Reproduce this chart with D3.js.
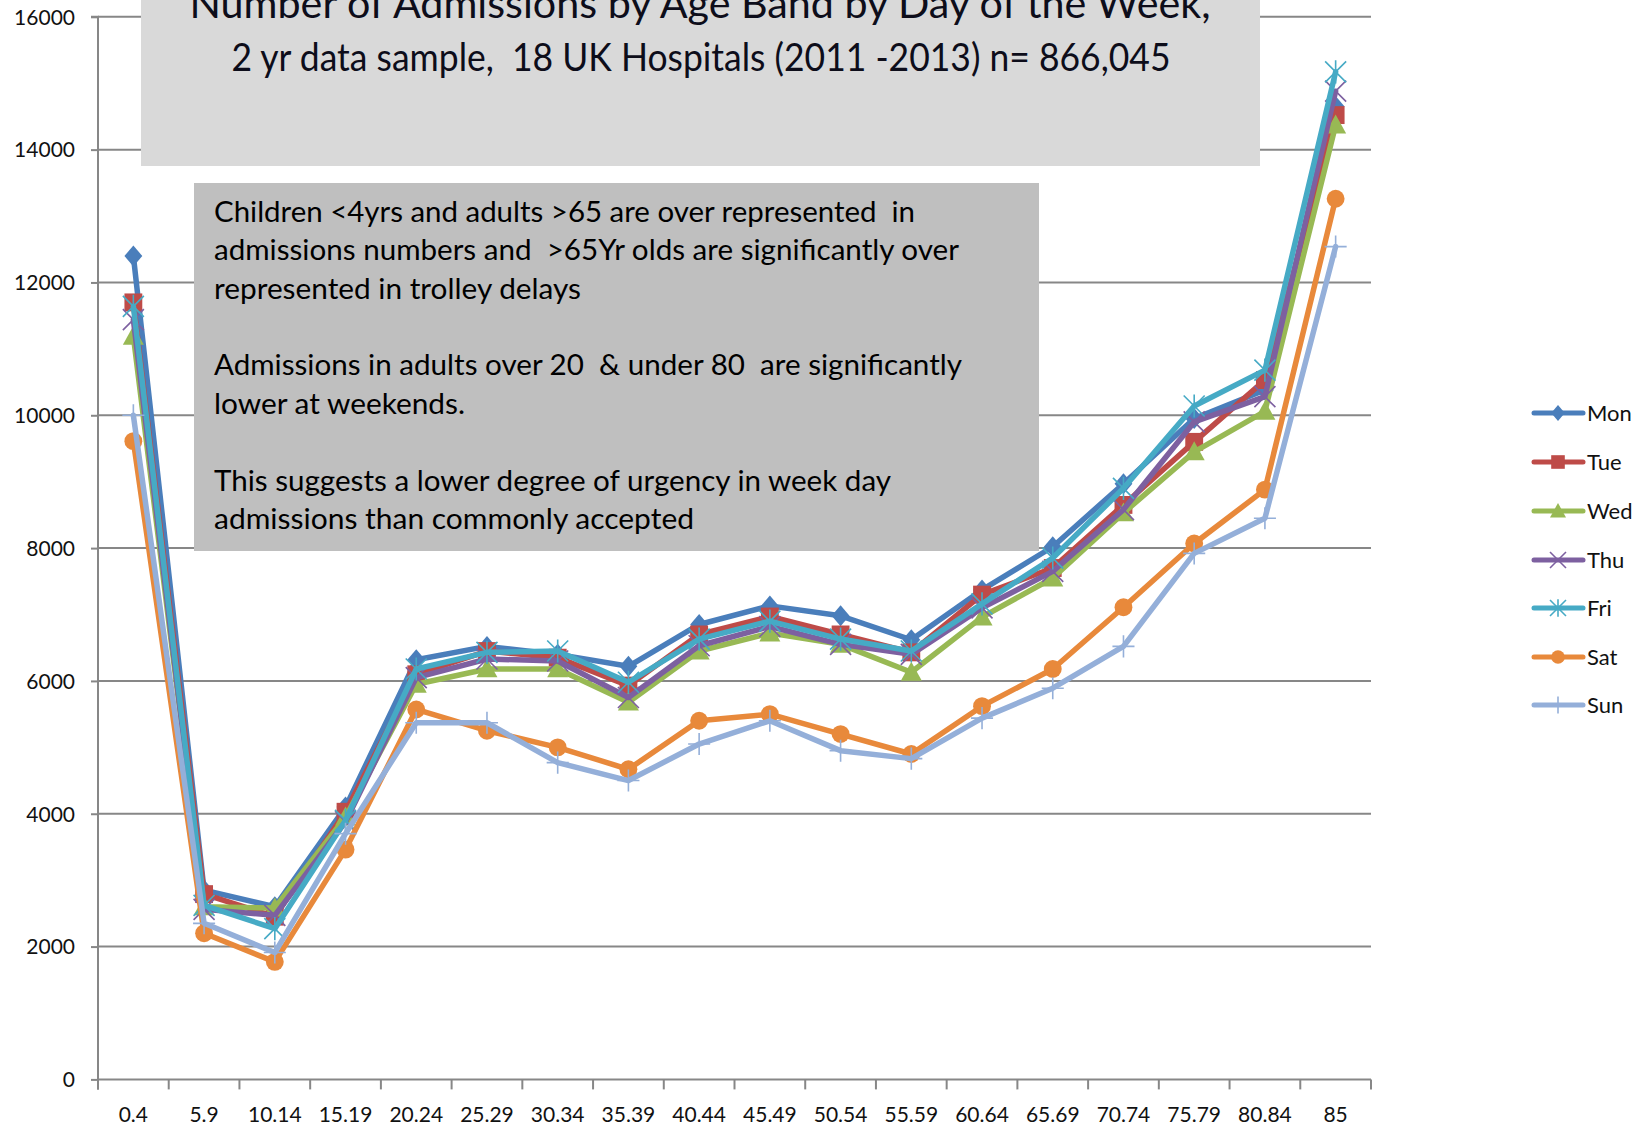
<!DOCTYPE html>
<html><head><meta charset="utf-8">
<script src="https://cdn.jsdelivr.net/npm/d3@7"></script>
<style>
html,body{margin:0;padding:0;background:#fff;}
svg{display:block;font-family:Lato,"Carlito","Noto Sans",sans-serif;}
svg text{white-space:pre;}
</style></head>
<body><svg id="c" width="1651" height="1128"></svg>
<script>
const categories = ["0.4","5.9","10.14","15.19","20.24","25.29","30.34","35.39","40.44","45.49","50.54","55.59","60.64","65.69","70.74","75.79","80.84","85"];
const yTicks = [0,2000,4000,6000,8000,10000,12000,14000,16000];
const seriesNames = ["Mon","Tue","Wed","Thu","Fri","Sat","Sun"];
const mon = [12400,2850,2600,4100,6320,6520,6400,6220,6850,7130,6980,6620,7370,8020,8970,9950,10380,14650];
const tue = [11700,2790,2450,4030,6100,6450,6350,5930,6700,6970,6700,6430,7300,7700,8650,9600,10530,14520];
const wed = [11190,2600,2580,3950,5950,6180,6180,5680,6450,6720,6550,6130,6960,7550,8530,9450,10060,14370];
const thu = [11440,2560,2470,3880,6050,6330,6300,5750,6530,6820,6550,6400,7100,7650,8580,9900,10280,14880];
const fri = [11640,2620,2270,3900,6180,6430,6450,5980,6630,6900,6630,6450,7160,7850,8900,10140,10680,15170];
const sat = [9610,2200,1770,3460,5570,5250,5000,4670,5400,5500,5200,4900,5620,6180,7110,8070,8880,13260];
const sun = [10000,2350,1910,3700,5370,5370,4770,4500,5050,5400,4950,4830,5440,5890,6520,7920,8450,12540];
const colors = ["#4A7EBB","#BE4B48","#98B954","#7D60A0","#46AAC5","#E8893B","#94AFD9"];
const markers = ["diamond","square","triangle","x","star","circle","plus"];
const titleLines = ["Number of Admissions by Age Band by Day of the Week,","2 yr data sample,  18 UK Hospitals (2011 -2013) n= 866,045"];
const noteLines = ["Children <4yrs and adults >65 are over represented  in","admissions numbers and  >65Yr olds are significantly over","represented in trolley delays","","Admissions in adults over 20  & under 80  are significantly","lower at weekends.","","This suggests a lower degree of urgency in week day","admissions than commonly accepted"];

const allSeries = [mon,tue,wed,thu,fri,sat,sun];
const svg = d3.select("#c");
svg.append("rect").attr("width",1651).attr("height",1128).attr("fill","#fff");

const L=98, R=1371, T=16.8, B=1079.4;
const x = d3.scaleBand().domain(categories).range([L,R]).padding(0);
const cx = d => x(d) + x.bandwidth()/2;
const y = d3.scaleLinear().domain([0,16000]).range([B,T]);
const gray = "#878787";

// gridlines
svg.append("g").selectAll("line").data(yTicks.filter(v=>v>0)).join("line")
  .attr("x1",L).attr("x2",R).attr("y1",d=>y(d)).attr("y2",d=>y(d))
  .attr("stroke",gray).attr("stroke-width",2);

// y axis
const ya = svg.append("g").attr("transform",`translate(${L},0)`)
  .call(d3.axisLeft(y).tickValues(yTicks).tickSize(7).tickPadding(16).tickFormat(d3.format("d")));
ya.select(".domain").attr("stroke",gray).attr("stroke-width",2).attr("d",`M-7,${T}H0V${B+10}`);
ya.selectAll(".tick line").attr("stroke",gray).attr("stroke-width",2);
ya.selectAll(".tick text").attr("font-family","Lato, sans-serif").attr("font-size",21).attr("fill","#111").attr("dy","0.35em");

// x axis
svg.append("line").attr("x1",L).attr("x2",R).attr("y1",B).attr("y2",B).attr("stroke",gray).attr("stroke-width",2);
const bounds = categories.map(c=>x(c)).concat([x(categories[categories.length-1])+x.bandwidth()]);
svg.append("g").selectAll("line").data(bounds).join("line")
  .attr("x1",d=>d).attr("x2",d=>d).attr("y1",B).attr("y2",B+10)
  .attr("stroke",gray).attr("stroke-width",2);
svg.append("g").selectAll("text").data(categories).join("text")
  .attr("x",d=>cx(d)).attr("y",1122).attr("text-anchor","middle")
  .attr("font-size",21).attr("fill","#111").text(d=>d);

// title box
svg.append("rect").attr("x",141).attr("y",-5).attr("width",1119).attr("height",171).attr("fill","#d9d9d9");
svg.append("text").attr("x",700).attr("y",18).attr("text-anchor","middle").attr("font-size",40).attr("fill","#0d0d1a")
  .attr("textLength",1021).attr("lengthAdjust","spacingAndGlyphs").text(titleLines[0]);
svg.append("text").attr("x",701).attr("y",71).attr("text-anchor","middle").attr("font-size",38).attr("fill","#0d0d1a")
  .attr("textLength",939).attr("lengthAdjust","spacingAndGlyphs").text(titleLines[1]);

// note box
svg.append("rect").attr("x",194).attr("y",183).attr("width",845).attr("height",368).attr("fill","#bfbfbf");
const noteW = [701,745,367,0,748,251,0,677,480];
const noteY = [222,260,299,0,375,414,0,491,529];
noteLines.forEach((t,i)=>{
  if(!t) return;
  svg.append("text").attr("x",214).attr("y",noteY[i]).attr("font-size",28.5).attr("fill","#000")
    .attr("textLength",noteW[i]).attr("lengthAdjust","spacingAndGlyphs").text(t);
});

function drawMarker(g, type, color, s){
  if(type==="diamond"){
    g.append("path").attr("d",`M0,${-s}L${s*0.85},0L0,${s}L${-s*0.85},0Z`).attr("fill",color);
  } else if(type==="square"){
    g.append("rect").attr("x",-s*0.85).attr("y",-s*0.85).attr("width",s*1.7).attr("height",s*1.7).attr("fill",color);
  } else if(type==="triangle"){
    g.append("path").attr("d",`M0,${-s}L${s},${s*0.8}L${-s},${s*0.8}Z`).attr("fill",color);
  } else if(type==="circle"){
    g.append("circle").attr("r",s*0.85).attr("fill",color);
  } else if(type==="x"){
    g.append("path").attr("d",`M${-s},${-s}L${s},${s}M${-s},${s}L${s},${-s}`).attr("stroke",color).attr("stroke-width",1.6).attr("fill","none");
  } else if(type==="star"){
    g.append("path").attr("d",`M${-s},${-s}L${s},${s}M${-s},${s}L${s},${-s}M0,${-s*1.1}L0,${s*1.1}`).attr("stroke",color).attr("stroke-width",1.6).attr("fill","none");
  } else if(type==="plus"){
    g.append("path").attr("d",`M${-s*1.05},0L${s*1.05},0M0,${-s*1.05}L0,${s*1.05}`).attr("stroke",color).attr("stroke-width",1.6).attr("fill","none");
  }
}

const line = d3.line().x((d,i)=>cx(categories[i])).y(d=>y(d));
allSeries.forEach((vals,si)=>{
  const g = svg.append("g");
  g.append("path").attr("d",line(vals)).attr("fill","none").attr("stroke",colors[si])
    .attr("stroke-width",5.5).attr("stroke-linejoin","round").attr("stroke-linecap","round");
  vals.forEach((v,i)=>{
    const mg = g.append("g").attr("transform",`translate(${cx(categories[i])},${y(v)})`);
    drawMarker(mg, markers[si], colors[si], 10.5);
  });
});

// legend
const legY = [413,462,511,560,608,657,705];
seriesNames.forEach((n,i)=>{
  const g = svg.append("g").attr("transform",`translate(0,${legY[i]})`);
  g.append("line").attr("x1",1534).attr("x2",1583).attr("y1",0).attr("y2",0).attr("stroke",colors[i]).attr("stroke-width",5).attr("stroke-linecap","round");
  const mg = g.append("g").attr("transform","translate(1558,0)");
  drawMarker(mg, markers[i], colors[i], 8);
  g.append("text").attr("x",1587).attr("y",0).attr("dy","0.35em").attr("font-size",22).attr("fill","#111").text(n);
});
</script></body></html>
